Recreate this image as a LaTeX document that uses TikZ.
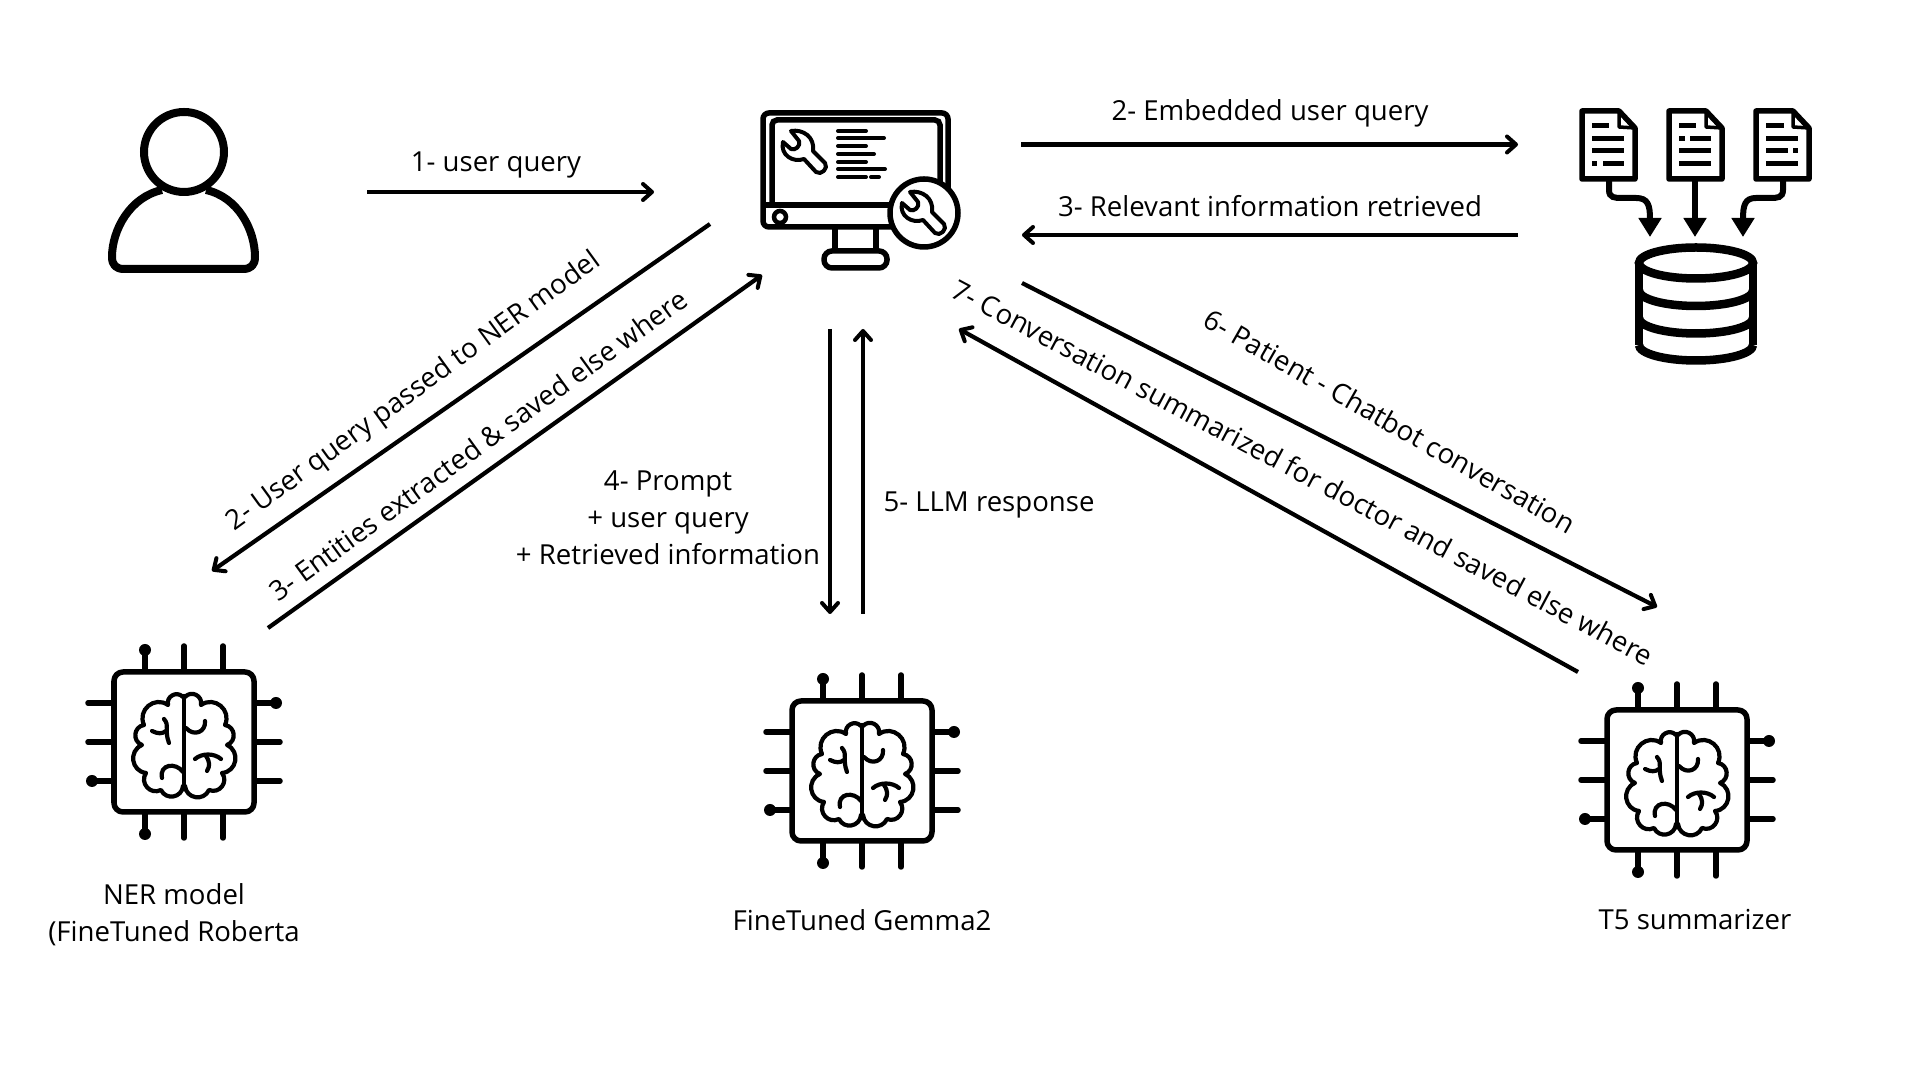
\documentclass[tikz,border=0pt]{standalone}
\usepackage{fontspec}
\setmainfont{Open Sans}
\usetikzlibrary{positioning,arrows.meta,calc}
\tikzset{
  flow/.style={line width=0.042cm,-{Straight Barb[length=0.09cm,width=0.16cm,line width=0.04cm,round]}},
  lbl/.style={font=\fontsize{7.84}{10.5}\selectfont,align=center,inner sep=0pt},
  icon/.style={line width=0.055cm,line cap=round,line join=round},
  lobe/.style={bend right=75,looseness=1.35},
  inlobe/.style={bend left=75,looseness=1.35},
  fold/.style={line width=0.042cm,line cap=round},
  pipe/.style={line width=0.06cm,-{Triangle[length=0.19cm,width=0.22cm]}},
}
% chip with brain, drawn round its centre
\newcommand{\brainchip}[1]{
\begin{scope}[shift={#1},icon]
\draw[rounded corners=0.09cm] (-70,-70) rectangle (70,70);
\foreach \t in {0,39}{
  \draw (\t,-71) -- (\t,-96); \draw (\t,71) -- (\t,96);
  \draw (-71,-\t) -- (-96,-\t); \draw (71,\t) -- (96,\t);
}
\draw (-39,-71) -- (-39,-92); \draw (-39,71) -- (-39,92);
\draw (-71,39) -- (-92,39); \draw (71,-39) -- (92,-39);
\fill (-39,-92) circle (6); \fill (-39,92) circle (6);
\fill (-92,39) circle (6); \fill (92,-39) circle (6);
% brain
\draw[fold] (0,-46) -- (0,44);
\draw[fold] (-1,-45) to[lobe] (-16,-37) to[lobe] (-40,-17) to[lobe] (-42,3) to[lobe] (-38,31) to[lobe] (-23,48) to[lobe] (-1,44);
\draw[fold] (1,-45) to[inlobe] (17,-37) to[inlobe] (41,-17) to[inlobe] (43,3) to[inlobe] (38,31) to[inlobe] (25,48) to[inlobe] (1,44);
\draw[fold] (-20,-23) .. controls (-14,-16) and (-20,-12) .. (-15,1);
\draw[fold] (-32,-11) .. controls (-26,-8) and (-22,-8) .. (-18,-11);
\draw[fold] (-22,36) .. controls (-25,22) and (-8,20) .. (-1,30);
\draw[fold] (2,-14) .. controls (10,-5) and (22,-10) .. (21,-21);
\draw[fold] (11,17) .. controls (18,11) and (30,11) .. (37,17);
\draw[fold] (22,14) .. controls (26,20) and (26,24) .. (23,29);
\end{scope}}
% wrench with its jaws to the upper left
\newcommand{\wrench}[1]{
\begin{scope}[shift={#1},line width=0.04cm,line join=round]
\draw[fill=white] (-7,-16) .. controls (5,-18) and (17,-10) .. (15,4) -- (27,16)
  .. controls (31,21) and (23,29) .. (18,25) -- (6,12)
  .. controls (-5,16) and (-18,8) .. (-15,-5)
  -- (-7,2) .. controls (-3,4) and (3,-1) .. (1,-6) -- cycle;
\end{scope}}
% page with its text bars
\newcommand{\page}[2]{
\begin{scope}[shift={#1}]
\draw[line width=0.055cm,line join=round] (2,2) -- (39,2) -- (55,19) -- (55,70) -- (2,70) -- cycle;
\draw[line width=0.035cm,line join=round] (39,2) -- (39,18) -- (55,19);
\foreach \y/\a/\b in {#2}{\fill (\a,\y-2.5) rectangle (\b,\y+2.5);}
\end{scope}}
\begin{document}
\begin{tikzpicture}[x=0.01cm,y=-0.01cm]
\useasboundingbox (0,0) rectangle (1920,1080);
\fill[white] (0,0) rectangle (1920,1080);
% user
\draw[line width=0.08cm] (184,152) circle (40);
\draw[line width=0.08cm,line join=round] (162,190) .. controls (130,197) and (112,230) .. (112,257)
  .. controls (112,265) and (116,269) .. (124,269) -- (243,269)
  .. controls (251,269) and (255,265) .. (255,257)
  .. controls (255,230) and (238,197) .. (206,190);
% monitor
\draw[line width=0.055cm,rounded corners=0.06cm] (763,113) rectangle (948,227);
\draw[line width=0.055cm,rounded corners=0.05cm] (772,204) -- (772,120) -- (940,120) -- (940,204);
\draw[line width=0.055cm] (763,205) -- (948,205);
\draw[line width=0.045cm] (780,217) circle (6);
\draw[line width=0.055cm] (835,228) -- (835,251) (876,228) -- (876,251);
\draw[line width=0.055cm,rounded corners=0.08cm] (824,251) rectangle (887,268);
\foreach \y/\b in {131/866,138/884,146/866,154/874,162/866,169/885,177/866}
  \draw[line width=0.04cm,line cap=round] (838,\y) -- (\b,\y);
\draw[line width=0.04cm,line cap=round] (871,177) -- (879,177);
\wrench{(798,147)}
\draw[line width=0.055cm,fill=white] (924,213) circle (34);
\wrench{(917,208)}
% pages and store
\page{(1580,109)}{17/12/29,30/12/44,42/12/44,55/12/17,55/23/44}
\page{(1667,109)}{17/12/29,30/12/18,30/23/44,42/12/44,55/12/44}
\page{(1754,109)}{17/12/30,30/12/44,42/12/34,42/39/44,55/12/44}
\coordinate (pg1) at (1609,181); \coordinate (pg2) at (1695,181); \coordinate (pg3) at (1783,181);
\coordinate (st1) at (1650,237); \coordinate (st2) at (1695,237); \coordinate (st3) at (1743,237);
\draw[pipe] (pg1) -- (1609,190) .. controls (1609,198) and (1615,198) .. (1622,198) -- (1636,198) .. controls (1648,198) and (1650,205) .. (st1);
\draw[pipe] (pg2) -- (st2);
\draw[pipe] (pg3) -- (1783,190) .. controls (1783,198) and (1777,198) .. (1770,198) -- (1756,198) .. controls (1745,198) and (1743,205) .. (st3);
\foreach \y in {290.5,318,345} \draw[line width=0.085cm] (1639,\y) arc[start angle=180,end angle=0,x radius=57,y radius=15.5];
\draw[line width=0.085cm] (1696,263) ellipse (57 and 15.5);
\draw[line width=0.085cm] (1639,263) -- (1639,345) (1753,263) -- (1753,345);
% chips
\brainchip{(184,742)}
\brainchip{(862,771)}
\brainchip{(1677,780)}
% connectors
\coordinate (u1) at (367,192); \coordinate (m1) at (654,192);
\coordinate (m2) at (1021,144.5); \coordinate (d2) at (1518,144.5);
\coordinate (d3) at (1518,235); \coordinate (m3) at (1022,235);
\coordinate (m4) at (710,224); \coordinate (n4) at (212,571);
\coordinate (n5) at (268,628); \coordinate (m5) at (762,275);
\coordinate (m6) at (830,329); \coordinate (g6) at (830,614);
\coordinate (g7) at (863,614); \coordinate (m7) at (863,329);
\coordinate (m8) at (1022,283); \coordinate (t8) at (1657,607);
\coordinate (t9) at (1578,672); \coordinate (m9) at (959,329);
\foreach \a/\b in {u1/m1,m2/d2,d3/m3,m4/n4,n5/m5,m6/g6,g7/m7,m8/t8,t9/m9}
  \draw[flow] (\a) -- (\b);
% labels
\node[lbl] (l1) at (496,165) {1- user query};
\node[lbl] (l2) at (1270,113) {2- Embedded user query};
\node[lbl] (l3) at (1270,206) {3- Relevant information retrieved};
\node[lbl,rotate=36] (l4) at (414,392) {2- User query passed to NER model};
\node[lbl,rotate=36] (l5) at (478,445) {3- Entities extracted \& saved else where};
\node[lbl] (l6) at (668,518) {4- Prompt\\+ user query\\+ Retrieved information};
\node[lbl] (l7) at (989,505) {5- LLM response};
\node[lbl,rotate=-29.7] (l8) at (1390,421) {6- Patient - Chatbot conversation};
\node[lbl,rotate=-28] (l9) at (1303,472) {7- Conversation summarized for doctor and saved else where};
\node[lbl] (ner) at (174,915) {NER model\\(FineTuned Roberta};
\node[lbl] (gem) at (862,920) {FineTuned Gemma2};
\node[lbl] (sum) at (1695,920) {T5 summarizer};
\end{tikzpicture}
\end{document}
